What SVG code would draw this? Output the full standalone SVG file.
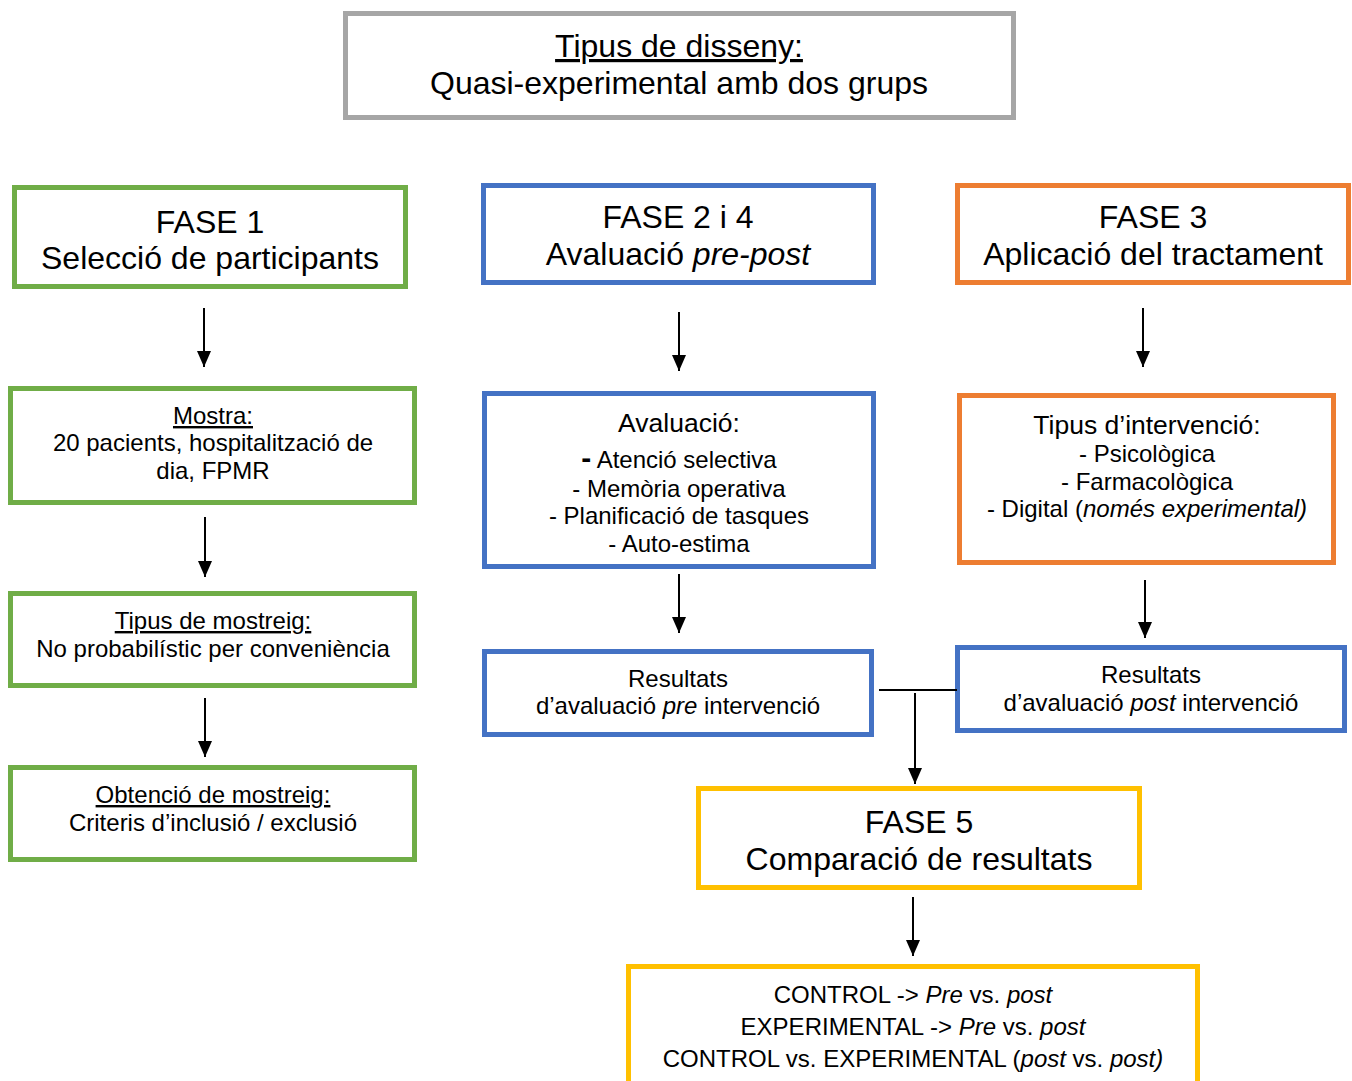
<svg xmlns="http://www.w3.org/2000/svg" width="1352" height="1081" viewBox="0 0 1352 1081">
<defs>
<marker id="ah" viewBox="0 0 16 14" markerWidth="16" markerHeight="14" refX="16" refY="7" orient="auto" markerUnits="userSpaceOnUse">
<path d="M0,0 L16,7 L0,14 z" fill="#000"/>
</marker>
<style>
.box{fill:#fff;stroke-width:5}
.g{stroke:#70ad47}.b{stroke:#4472c4}.o{stroke:#ed7d31}.y{stroke:#ffc000}.gr{stroke:#a6a6a6}
text{font-family:"Liberation Sans",Arial,sans-serif;fill:#000;text-anchor:middle}
.big{font-size:32px}
.sm{font-size:24px}
.hd{font-size:26.5px}
.u{text-decoration:underline}
.i{font-style:italic}
.c{stroke:#000;stroke-width:2;fill:none}
</style>
</defs>
<rect width="1352" height="1081" fill="#fff"/>

<g id="disseny">
<rect class="box gr" x="345.5" y="13.5" width="668" height="104"/>
<text class="big" x="679" y="57"><tspan class="u">Tipus de disseny:</tspan></text>
<text class="big" x="679" y="94">Quasi-experimental amb dos grups</text>
</g>

<g id="fase1">
<rect class="box g" x="14.5" y="187.5" width="391" height="99"/>
<text class="big" x="210" y="233">FASE 1</text>
<text class="big" x="210" y="269">Selecció de participants</text>
</g>

<g id="fase24">
<rect class="box b" x="483.5" y="185.5" width="390" height="97"/>
<text class="big" x="678" y="228">FASE 2 i 4</text>
<text class="big" x="678" y="265">Avaluació <tspan class="i">pre-post</tspan></text>
</g>

<g id="fase3">
<rect class="box o" x="957.5" y="185.5" width="391" height="97"/>
<text class="big" x="1153" y="228">FASE 3</text>
<text class="big" x="1153" y="265">Aplicació del tractament</text>
</g>

<g id="mostra">
<rect class="box g" x="10.5" y="388.5" width="404" height="114"/>
<text class="sm" x="213" y="424"><tspan class="u">Mostra:</tspan></text>
<text class="sm" x="213" y="451">20 pacients, hospitalització de</text>
<text class="sm" x="213" y="479">dia, FPMR</text>
</g>

<g id="tipus-mostreig">
<rect class="box g" x="10.5" y="593.5" width="404" height="92"/>
<text class="sm" x="213" y="629"><tspan class="u">Tipus de mostreig:</tspan></text>
<text class="sm" x="213" y="657">No probabilístic per conveniència</text>
</g>

<g id="obtencio">
<rect class="box g" x="10.5" y="767.5" width="404" height="92"/>
<text class="sm" x="213" y="803"><tspan class="u">Obtenció de mostreig:</tspan></text>
<text class="sm" x="213" y="831">Criteris d’inclusió / exclusió</text>
</g>

<g id="avaluacio">
<rect class="box b" x="484.5" y="393.5" width="389" height="173"/>
<text class="hd" x="679" y="432">Avaluació:</text>
<text class="sm" x="679" y="468"><tspan font-size="30" font-weight="bold">-</tspan> Atenció selectiva</text>
<text class="sm" x="679" y="497">- Memòria operativa</text>
<text class="sm" x="679" y="524">- Planificació de tasques</text>
<text class="sm" x="679" y="552">- Auto-estima</text>
</g>

<g id="intervencio">
<rect class="box o" x="959.5" y="395.5" width="374" height="167"/>
<text class="hd" x="1147" y="434">Tipus d’intervenció:</text>
<text class="sm" x="1147" y="462">- Psicològica</text>
<text class="sm" x="1147" y="490">- Farmacològica</text>
<text class="sm" x="1147" y="517">- Digital (<tspan class="i">només experimental)</tspan></text>
</g>

<g id="resultats-pre">
<rect class="box b" x="484.5" y="651.5" width="387" height="83"/>
<text class="sm" x="678" y="687">Resultats</text>
<text class="sm" x="678" y="714">d’avaluació <tspan class="i">pre</tspan> intervenció</text>
</g>

<g id="resultats-post">
<rect class="box b" x="957.5" y="647.5" width="387" height="83"/>
<text class="sm" x="1151" y="683">Resultats</text>
<text class="sm" x="1151" y="711">d’avaluació <tspan class="i">post</tspan> intervenció</text>
</g>

<g id="fase5">
<rect class="box y" x="698.5" y="788.5" width="441" height="99"/>
<text class="big" x="919" y="833">FASE 5</text>
<text class="big" x="919" y="870">Comparació de resultats</text>
</g>

<g id="comparacio">
<rect class="box y" x="628.5" y="966.5" width="569" height="130"/>
<text class="sm" x="913" y="1003">CONTROL -&gt; <tspan class="i">Pre</tspan> vs. <tspan class="i">post</tspan></text>
<text class="sm" x="913" y="1035">EXPERIMENTAL -&gt; <tspan class="i">Pre</tspan> vs. <tspan class="i">post</tspan></text>
<text class="sm" x="913" y="1067">CONTROL vs. EXPERIMENTAL (<tspan class="i">post</tspan> vs. <tspan class="i">post)</tspan></text>
</g>

<g id="connectors">
<line class="c" x1="204" y1="308" x2="204" y2="367" marker-end="url(#ah)"/>
<line class="c" x1="679" y1="312" x2="679" y2="371" marker-end="url(#ah)"/>
<line class="c" x1="1143" y1="308" x2="1143" y2="367" marker-end="url(#ah)"/>
<line class="c" x1="205" y1="517" x2="205" y2="577" marker-end="url(#ah)"/>
<line class="c" x1="205" y1="698" x2="205" y2="757" marker-end="url(#ah)"/>
<line class="c" x1="679" y1="574" x2="679" y2="633" marker-end="url(#ah)"/>
<line class="c" x1="1145" y1="580" x2="1145" y2="638" marker-end="url(#ah)"/>
<line class="c" x1="879" y1="690" x2="957" y2="690"/>
<line class="c" x1="915" y1="693" x2="915" y2="784" marker-end="url(#ah)"/>
<line class="c" x1="913" y1="897" x2="913" y2="956" marker-end="url(#ah)"/>
</g>
</svg>
